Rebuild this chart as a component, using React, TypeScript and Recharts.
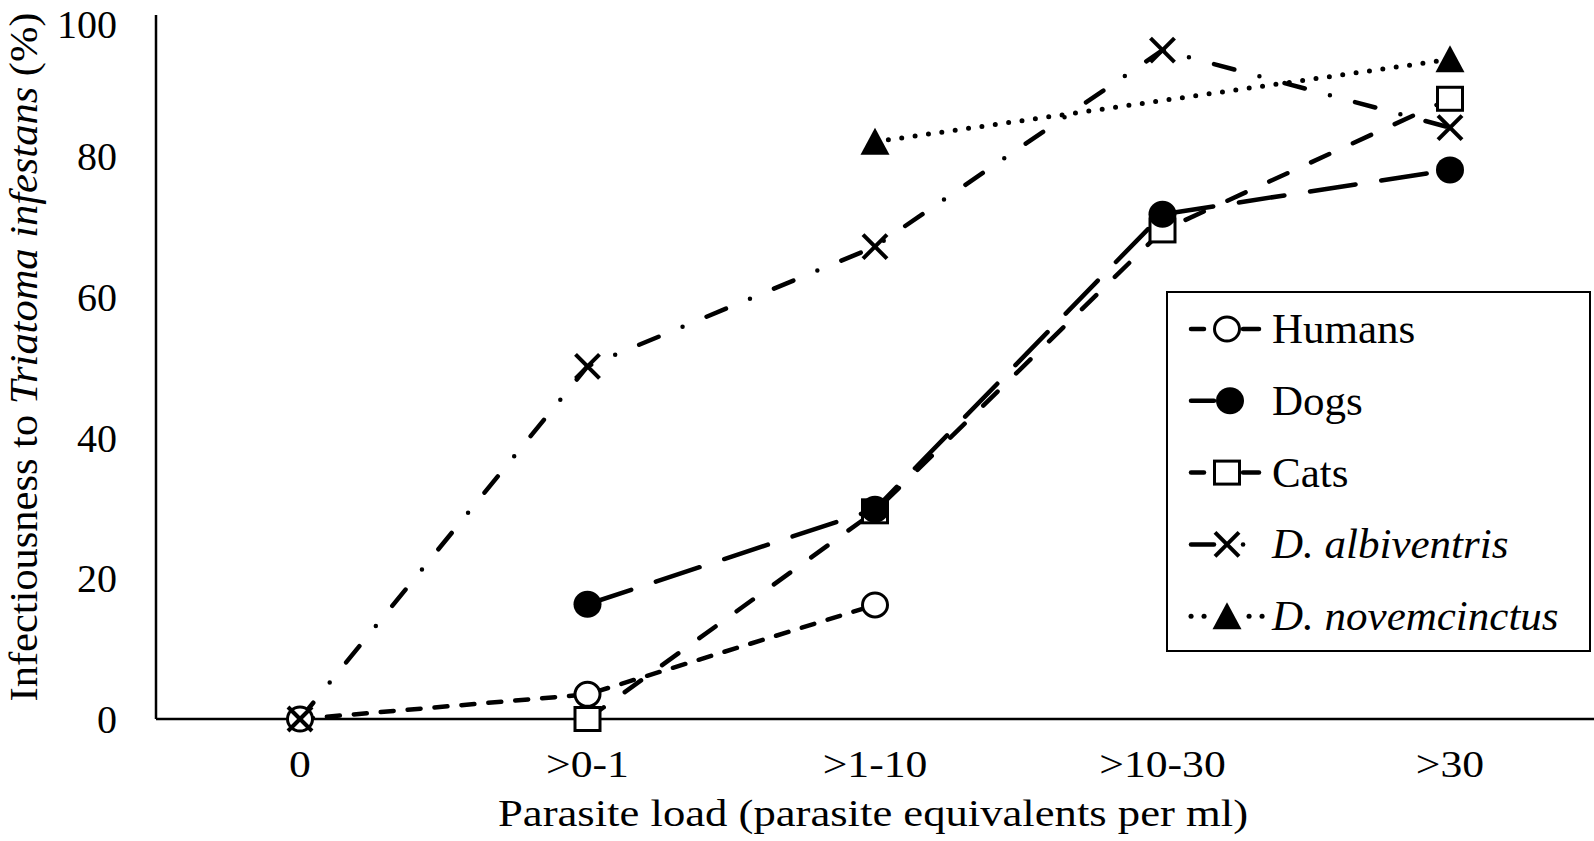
import { Line, LineChart, XAxis, YAxis } from "recharts";

const categories = ["0", ">0-1", ">1-10", ">10-30", ">30"];
const humans = [0, 3.5, 16.2, null, null];
const dogs = [null, 16.3, 29.8, 71.7, 78.0];
const cats = [null, 0, 29.5, 69.4, 88.1];
const albiventris = [0, 50.1, 67.1, 95.0, 84.0];
const novemcinctus = [null, null, 82.0, null, 93.7];
const yTicks = [0, 20, 40, 60, 80, 100];

const data = categories.map((name, i) => ({
	name,
	humans: humans[i],
	dogs: dogs[i],
	cats: cats[i],
	albiventris: albiventris[i],
	novemcinctus: novemcinctus[i],
}));

const FONT = "'Liberation Serif', 'Times New Roman', serif";

type Kind = "circle" | "disc" | "square" | "cross" | "triangle";

const Marker = ({ kind, cx, cy }: { kind: Kind; cx: number; cy: number }) => {
	if (kind === "circle")
		return <ellipse cx={cx} cy={cy} rx={12.5} ry={12} fill="#fff" stroke="#000" strokeWidth={3} />;
	if (kind === "disc") return <ellipse cx={cx} cy={cy} rx={14} ry={13.5} fill="#000" />;
	if (kind === "square")
		return <rect x={cx - 12.5} y={cy - 11.5} width={25} height={23} fill="#fff" stroke="#000" strokeWidth={3} />;
	if (kind === "cross")
		return (
			<g stroke="#000" strokeWidth={4}>
				<line x1={cx - 12} y1={cy - 12} x2={cx + 12} y2={cy + 12} />
				<line x1={cx - 12} y1={cy + 12} x2={cx + 12} y2={cy - 12} />
			</g>
		);
	return <polygon points={`${cx},${cy - 14} ${cx - 14.5},${cy + 13} ${cx + 14.5},${cy + 13}`} fill="#000" />;
};

const makeDot = (kind: Kind) => (props: any) => {
	const { cx, cy, value, index } = props;
	if (value == null || cy == null || isNaN(cy)) return <g key={`${kind}-${index}`} />;
	return (
		<g key={`${kind}-${index}`}>
			<Marker kind={kind} cx={cx} cy={cy} />
		</g>
	);
};

const XTick = (props: any) => {
	const { x, payload } = props;
	return (
		<g transform={`translate(${x},777) scale(1.18,1)`}>
			<text x={0} y={0} textAnchor="middle" fontFamily={FONT} fontSize={37} fill="#000">
				{payload.value}
			</text>
		</g>
	);
};

const YTitle = () => (
	<g transform="translate(37,357) rotate(-90) scale(1.036,1)">
		<text x={0} y={0} textAnchor="middle" fontFamily={FONT} fontSize={41} fill="#000">
			Infectiousness to <tspan fontStyle="italic">Triatoma infestans</tspan> (%)
		</text>
	</g>
);

const XTitle = () => (
	<text x={873} y={826} textAnchor="middle" fontFamily={FONT} fontSize={37} fill="#000" textLength={750} lengthAdjust="spacingAndGlyphs">
		Parasite load (parasite equivalents per ml)
	</text>
);

const legendRows: { label: string; italic: boolean; kind: Kind }[] = [
	{ label: "Humans", italic: false, kind: "circle" },
	{ label: "Dogs", italic: false, kind: "disc" },
	{ label: "Cats", italic: false, kind: "square" },
	{ label: "D. albiventris", italic: true, kind: "cross" },
	{ label: "D. novemcinctus", italic: true, kind: "triangle" },
];

const LegendBox = () => (
	<svg width={426} height={362} style={{ display: "block" }}>
		<rect x={1} y={1} width={423} height={359} fill="#fff" stroke="#000" strokeWidth={2} />
		{legendRows.map((r, i) => {
			const cy = 38 + i * 71.8;
			const mx = 61;
			let sample;
			if (r.kind === "circle" || r.kind === "square") {
				sample = (
					<g stroke="#000" strokeWidth={4.5} strokeLinecap="round">
						<line x1={25} y1={cy} x2={38} y2={cy} />
						<line x1={77} y1={cy} x2={93} y2={cy} />
					</g>
				);
			} else if (r.kind === "disc" || r.kind === "cross") {
				sample = (
					<g stroke="#000" strokeWidth={4.5} strokeLinecap="round">
						<line x1={25} y1={cy} x2={48} y2={cy} />
						{r.kind === "cross" && <line x1={77} y1={cy} x2={77.1} y2={cy} />}
					</g>
				);
			} else {
				sample = (
					<g stroke="#000" strokeWidth={5} strokeLinecap="round">
						<line x1={25} y1={cy} x2={25.1} y2={cy} />
						<line x1={38} y1={cy} x2={38.1} y2={cy} />
						<line x1={83} y1={cy} x2={83.1} y2={cy} />
						<line x1={96} y1={cy} x2={96.1} y2={cy} />
					</g>
				);
			}
			return (
				<g key={r.label}>
					{sample}
					<Marker kind={r.kind} cx={r.kind === "disc" ? 64 : mx} cy={cy} />
					<text
						x={106}
						y={cy + 14}
						fontFamily={FONT}
						fontSize={43}
						fontStyle={r.italic ? "italic" : "normal"}
						fill="#000"
					>
						{r.label}
					</text>
				</g>
			);
		})}
	</svg>
);

export default function App() {
	return (
		<div style={{ position: "absolute", left: 0, top: 0, width: 1594, height: 841, background: "#fff" }}>
			<LineChart width={1594} height={841} data={data} margin={{ top: 15, right: 0, bottom: 0, left: 0 }}>
				<XAxis
					dataKey="name"
					height={122}
					padding={{ left: 144, right: 144 }}
					tickLine={false}
					axisLine={{ stroke: "#000", strokeWidth: 2.5 }}
					tick={<XTick />}
					interval={0}
					label={{ content: () => <XTitle /> }}
				/>
				<YAxis
					width={156}
					domain={[0, 100]}
					ticks={yTicks}
					tickLine={false}
					tickMargin={33}
					axisLine={{ stroke: "#000", strokeWidth: 2.5 }}
					tick={{ fontSize: 40, fill: "#000", fontFamily: FONT }}
					label={{ content: () => <YTitle /> }}
				/>
				<Line
					dataKey="humans"
					stroke="#000"
					strokeWidth={4.5}
					strokeDasharray="13 14"
					strokeLinecap="round"
					dot={makeDot("circle")}
					activeDot={false}
					isAnimationActive={false}
				/>
				<Line
					dataKey="cats"
					stroke="#000"
					strokeWidth={4.5}
					strokeDasharray="20 26"
					strokeLinecap="round"
					dot={makeDot("square")}
					activeDot={false}
					isAnimationActive={false}
				/>
				<Line
					dataKey="dogs"
					stroke="#000"
					strokeWidth={4.5}
					strokeDasharray="46 26"
					strokeLinecap="round"
					dot={makeDot("disc")}
					activeDot={false}
					isAnimationActive={false}
				/>
				<Line
					dataKey="albiventris"
					stroke="#000"
					strokeWidth={4.5}
					strokeDasharray="21 26 0 26"
					strokeLinecap="round"
					dot={makeDot("cross")}
					activeDot={false}
					isAnimationActive={false}
				/>
				<Line
					dataKey="novemcinctus"
					stroke="#000"
					strokeWidth={5}
					strokeDasharray="0 13.5"
					strokeLinecap="round"
					connectNulls
					dot={makeDot("triangle")}
					activeDot={false}
					isAnimationActive={false}
				/>
			</LineChart>
			<div style={{ position: "absolute", left: 1166, top: 291 }}>
				<LegendBox />
			</div>
		</div>
	);
}
